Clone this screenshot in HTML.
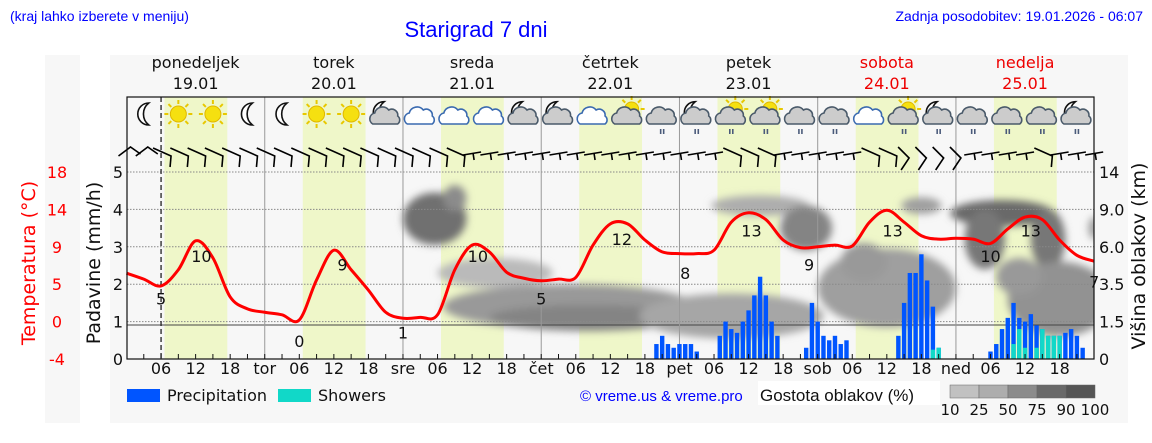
<!DOCTYPE html>
<html><head><meta charset="utf-8">
<style>
html,body{margin:0;padding:0;background:#fff;}
svg{display:block;font-family:"DejaVu Sans","Liberation Sans",sans-serif;}
</style></head>
<body>
<svg id="chart" width="1152" height="443" viewBox="0 0 1152 443" xmlns="http://www.w3.org/2000/svg">
<defs>
<filter id="blur" x="-50%" y="-50%" width="200%" height="200%"><feGaussianBlur stdDeviation="4"/></filter>
<clipPath id="plotclip"><rect x="127" y="172" width="967" height="187"/></clipPath>
</defs>
<rect x="45" y="55" width="35" height="368" fill="#f7f7f7"/>
<rect x="110" y="55" width="1018" height="368" fill="#f7f7f7"/>
<text x="10" y="21" font-family="Liberation Sans,sans-serif" font-size="14" fill="#0000ff">(kraj lahko izberete v meniju)</text>
<text x="476" y="37" text-anchor="middle" font-family="Liberation Sans,sans-serif" font-size="22" fill="#0000ff">Starigrad 7 dni</text>
<text x="1143" y="21" text-anchor="end" font-family="Liberation Sans,sans-serif" font-size="14" fill="#0000ff">Zadnja posodobitev: 19.01.2026 - 06:07</text>
<g id="bands"></g>
<g id="clouds" clip-path="url(#plotclip)"><g id="cloudsInner" filter="url(#blur)"></g></g>
<g id="grid"></g>
<g id="bars"></g>
<g id="temp"></g>
<g id="wind"></g>
<g id="icons"></g>
<g id="axes"></g>
<g id="legend">
<rect x="127" y="389" width="33" height="13" fill="#0055ff"/>
<text x="167" y="401" font-size="16" fill="#111">Precipitation</text>
<rect x="278" y="389" width="33" height="13" fill="#11d8c8"/>
<text x="318" y="401" font-size="16" fill="#111">Showers</text>
<text x="580" y="401" font-family="Liberation Sans,sans-serif" font-size="15" fill="#0000ff">© vreme.us &amp; vreme.pro</text>
<rect x="758" y="381" width="182" height="24" fill="#fff"/>
<text x="760" y="401" font-family="Liberation Sans,sans-serif" font-size="17" fill="#111">Gostota oblakov (%)</text>
</g>
</svg>
<script>
const NS="http://www.w3.org/2000/svg";
// ---- data ----
const dayNames=["ponedeljek","torek","sreda","četrtek","petek","sobota","nedelja"];
const dayDates=["19.01","20.01","21.01","22.01","23.01","24.01","25.01"];
const dayAbbr=["","tor","sre","čet","pet","sob","ned"];
const tempHours=[0,3,6,9,12,15,18,21,24,27,30,33,36,39,42,45,48,51,54,57,60,63,66,69,72,75,78,81,84,87,90,93,96,99,102,105,108,111,114,117,120,123,126,129,132,135,138,141,144,147,150,153,156,159,162,165,168];
const tempValues=[6.1,5.4,4.6,6.5,9.9,7.9,3.3,1.9,1.5,1.2,0.6,5.3,8.8,6.5,4.1,1.5,0.8,0.9,1.2,6.5,9.4,8.6,6.2,5.5,5.2,5.4,5.6,9.4,11.9,11.9,10.0,8.6,8.4,8.4,8.8,12.1,13.2,12.4,10.0,9.1,9.2,9.4,9.3,12.1,13.5,12.1,10.5,10.1,10.2,10.1,9.6,11.3,12.7,12.4,10.0,8.2,7.5];
const labelHours=[6,13,30,37.5,48,61,72,86,97,108.5,118.5,133,150,157,168];
const labelValues=[5,10,0,9,1,10,5,12,8,13,9,13,10,13,7];
const precipHours=[92,93,94,95,96,97,98,99,103,104,105,106,107,108,109,110,111,112,113,118,119,120,121,122,123,124,125,134,135,136,137,138,139,140,141,150,151,152,153,154,155,156,157,158,159,160,161,162,163,164,165,166];
const precipValues=[0.4,0.62,0.4,0.3,0.4,0.4,0.4,0.2,0.62,1.0,0.8,0.7,1.0,1.3,1.7,2.2,1.7,1.0,0.62,0.3,1.5,1.0,0.62,0.5,0.62,0.4,0.5,0.62,1.5,2.3,2.3,2.8,2.1,1.4,0.3,0.2,0.4,0.8,1.1,1.5,1.1,1.0,1.2,0.9,0.8,0.62,0.62,0.62,0.7,0.8,0.62,0.3];
const showerValues=[0,0,0,0,0,0,0,0,0,0,0,0,0,0,0,0,0,0,0,0,0,0,0,0,0,0,0,0,0,0,0,0,0,0.25,0.3,0,0,0,0,0.4,0.8,0.3,0,0.3,0.8,0.62,0.62,0.62,0,0,0,0];
// cloud blobs: [center hour, center level, width hours, height levels, density %]
const cloudBlobs=[[53.5,3.75,11,1.4,80],[57,4.3,4,0.7,60],[64,2.3,20,0.8,25],[77,1.4,44,1.2,50],[80,1.1,34,0.7,65],[105,1.15,32,1.2,40],[110,4.1,17,0.55,35],[118,3.5,9,1.2,65],[132,1.9,24,2.1,45],[128,2.6,8,1.0,50],[138,4.1,7,0.45,45],[152,3.9,18,0.7,85],[149,3.2,7,1.6,75],[160,3.2,6,1.6,75],[162,1.6,18,2.0,55],[155,2.2,8,1.0,50],[168,3.5,2,0.6,45]];
const iconTypes=["moon","sun","sun","moon","moon","sun","sun","mooncloud","cloudw","cloudw","cloudw","mooncloud","mooncloud","cloudw","suncloud","cloudrain","mooncloudrain","suncloudrain","suncloudrain","cloudrain","cloudrain","cloudw","suncloudrain","mooncloudrain","cloudrain","cloudrain","cloudrain","mooncloudrain"];
const windTypes=["p","p","d","d","d","d","d","d","d","d","d","d","d","d","d","d","d","d","d","d","h","h","h","h","h","h","h","h","h","h","h","h","h","h","h","d","d","d","h","h","h","h","h","d","d","c","c","c","c","h","h","h","h","d","h","h","h"];
const tempTicks=["18","14","9","5","0","-4"];
const rightTicks=["14","9.0","6.0","3.5","1.5","0"];
const scaleLabels=["10","25","50","75","90","100"];
// ---- axes ----
const X0=126.5,PXH=5.76,Y0=359,PXU=37.4;
const xH=h=>X0+h*PXH;
const yV=v=>Y0-v*PXU;
const yT=t=>325-t*8.5;
function el(tag,attrs,parent,txt){const e=document.createElementNS(NS,tag);for(const k in attrs)e.setAttribute(k,attrs[k]);if(txt!==undefined)e.textContent=txt;parent.appendChild(e);return e;}
const G=id=>document.getElementById(id);
// bands
for(let d=0;d<7;d++){
  const b=el("rect",{x:xH(d*24+6.6),y:97,width:(17.5-6.6)*PXH,height:262,fill:"#eff7c9"},G("bands"));
  
  
}
// clouds
const greyFor=p=>{const c=Math.round(220-p*1.35);return `rgb(${c},${c},${c})`;};
cloudBlobs.forEach(c=>{
  const e=el("ellipse",{cx:xH(c[0]),cy:yV(c[1]),rx:c[2]*PXH/2,ry:c[3]*PXU/2,fill:greyFor(c[4])},G("cloudsInner"));
  
  
});
// grid
const grid=G("grid");
for(let v=1;v<=5;v++){
  const l=el("line",{x1:127,x2:1094,y1:yV(v),y2:yV(v),stroke:"#888","stroke-width":1,"stroke-dasharray":"1.5,1.5"},grid);
  
  
}
const zl=el("line",{x1:127,x2:1094,y1:yT(0),y2:yT(0),stroke:"#444","stroke-width":1},grid);


for(let d=1;d<7;d++){
  const l=el("line",{x1:xH(d*24),x2:xH(d*24),y1:97,y2:359,stroke:"#999","stroke-width":1},grid);
  
  
}
const now=el("line",{x1:xH(6),x2:xH(6),y1:97,y2:359,stroke:"#222","stroke-width":1.3,"stroke-dasharray":"5,3"},grid);


// bars
precipHours.forEach((h,i)=>{
  const x=xH(h)-2.2;
  const b=el("rect",{x:x,y:yV(precipValues[i]),width:4.4,height:precipValues[i]*PXU,fill:"#0055ff"},G("bars"));
  
  
  if(showerValues[i]>0){
    const s=el("rect",{x:x,y:yV(showerValues[i]),width:4.4,height:showerValues[i]*PXU,fill:"#11d8c8"},G("bars"));
    
    
  }
});
// temperature
const pts=tempHours.map((h,i)=>[xH(h),yT(tempValues[i])]);
let d="M"+pts[0][0]+","+pts[0][1];
for(let i=0;i<pts.length-1;i++){
  const p0=pts[Math.max(0,i-1)],p1=pts[i],p2=pts[i+1],p3=pts[Math.min(pts.length-1,i+2)];
  d+=` C${p1[0]+(p2[0]-p0[0])/6},${p1[1]+(p2[1]-p0[1])/6} ${p2[0]-(p3[0]-p1[0])/6},${p2[1]-(p3[1]-p1[1])/6} ${p2[0]},${p2[1]}`;
}
const tl=el("path",{d:d,fill:"none",stroke:"#ff0000","stroke-width":3,"stroke-linejoin":"round"},G("temp"));


labelHours.forEach((h,i)=>{
  const t=el("text",{x:xH(h),y:yT(labelValues[i])+22,"text-anchor":"middle","font-size":16,fill:"#111"},G("temp"),String(labelValues[i]));
  
  
});
// wind
windTypes.forEach((w,i)=>{
  const x=xH(i*3);let pd;
  if(w==="d")pd=`M${x-8},${148} L${x+10},${156} L${x+9},${167}`;
  else if(w==="h")pd=`M${x-9},${155} L${x+9},${152} M${x+1},${153.5} L${x+2},${160}`;
  else if(w==="c")pd=`M${x-6},${147} L${x+5},${158} L${x-3},${170}`;
  else pd=`M${x-8},${156} L${x+4},${147} L${x+14},${154}`;
  const p=el("path",{d:pd,fill:"none",stroke:"#000","stroke-width":1.6},G("wind"));
  
  
});
// icons
function cloud(g,cx,cy,fill,stroke){
  el("path",{d:`M${cx-13},${cy+8} a6,6 0 0 1 2,-11 a8,8 0 0 1 14,-3 a6,6 0 0 1 9,6 a5,5 0 0 1 0,8 z`,fill:fill,stroke:stroke,"stroke-width":1.6},g);
}
function sun(g,cx,cy,r){
  for(let a=0;a<8;a++){const an=a*Math.PI/4;el("line",{x1:cx+Math.cos(an)*(r+2),y1:cy+Math.sin(an)*(r+2),x2:cx+Math.cos(an)*(r+6),y2:cy+Math.sin(an)*(r+6),stroke:"#e8c800","stroke-width":2},g);}
  el("circle",{cx:cx,cy:cy,r:r,fill:"#f5e010",stroke:"#e0b800","stroke-width":1},g);
}
function moon(g,cx,cy,s){
  el("path",{d:`M${cx+3*s},${cy-11*s} a11,11 0 1 0 0,22 a14,14 0 0 1 0,-22 z`,fill:"#fff",stroke:"#111","stroke-width":1.6},g);
}
iconTypes.forEach((t,i)=>{
  const cx=xH(3+i*6),cy=114;
  const g=el("g",{},G("icons"));
  
  
  if(t==="sun")sun(g,cx,cy,8);
  else if(t==="moon")moon(g,cx+2,cy,1);
  else{
    if(t.startsWith("moon"))moon(g,cx-4,cy-3,0.85);
    if(t.startsWith("sun"))sun(g,cx+4,cy-5,7);
    const white=(t==="cloudw");
    cloud(g,cx,cy+2,white?"#fff":"#ccc",white?"#3a6ab0":"#4a5a6a");
    if(t.endsWith("rain")){
      el("text",{x:cx,y:cy+20,"text-anchor":"middle","font-size":9,fill:"#4a5a7a","font-weight":"bold"},g,"ıı");
    }
  }
});
// axes
const ax=G("axes");
const frame=el("rect",{x:127,y:97,width:967,height:262,fill:"none",stroke:"#111","stroke-width":1.2},ax);


for(let h=3;h<168;h+=3){
  const l=el("line",{x1:xH(h),x2:xH(h),y1:359,y2:354,stroke:"#111","stroke-width":1},ax);
  
  
}
for(let dd=0;dd<7;dd++){
  const dn=el("text",{x:xH(dd*24+12),y:68,"text-anchor":"middle","font-size":16,fill:dd>=5?"#e00":"#111"},ax,dayNames[dd]);
  
  
  const dt=el("text",{x:xH(dd*24+12),y:89,"text-anchor":"middle","font-size":16,fill:dd>=5?"#e00":"#111"},ax,dayDates[dd]);
  
  
  const labs=[[0,dayAbbr[dd]],[6,"06"],[12,"12"],[18,"18"]];
  labs.forEach(l=>{if(!l[1])return;
    const t=el("text",{x:xH(dd*24+l[0]),y:374,"text-anchor":"middle","font-size":16,fill:"#111"},ax,l[1]);
    
    
  });
}
for(let v=0;v<=5;v++){
  const t=el("text",{x:123,y:yV(v)+6,"text-anchor":"end","font-size":16,fill:"#111"},ax,String(v));
  
  
}
tempTicks.forEach((s,i)=>{
  const t=el("text",{x:57,y:178+i*37.4,"text-anchor":"middle","font-size":16,fill:"#ff0000"},ax,s);
  
  
});
rightTicks.forEach((s,i)=>{
  const t=el("text",{x:1099,y:178+i*37.4,"font-size":16,fill:"#111"},ax,s);
  
  
});
const yt1=el("text",{x:0,y:0,"text-anchor":"middle","font-size":19,fill:"#ff0000",transform:"translate(35,263) rotate(-90)"},ax,"Temperatura (°C)");


const yt2=el("text",{x:0,y:0,"text-anchor":"middle","font-size":19,fill:"#111",transform:"translate(100,263) rotate(-90)"},ax,"Padavine (mm/h)");


const yt3=el("text",{x:0,y:0,"text-anchor":"middle","font-size":19,fill:"#111",transform:"translate(1145,256) rotate(-90)"},ax,"Višina oblakov (km)");


// density scale
const lg=G("legend");
[10,25,50,75,90].forEach((p,i)=>{
  const r=el("rect",{x:950+i*29,y:385,width:29,height:13,fill:greyFor(p+10),stroke:"#666","stroke-width":0.5},lg);
  
  
});
scaleLabels.forEach((s,i)=>{
  const t=el("text",{x:950+i*29,y:415,"text-anchor":"middle","font-size":15,fill:"#111"},lg,s);
  
  
});
</script>
</body></html>
